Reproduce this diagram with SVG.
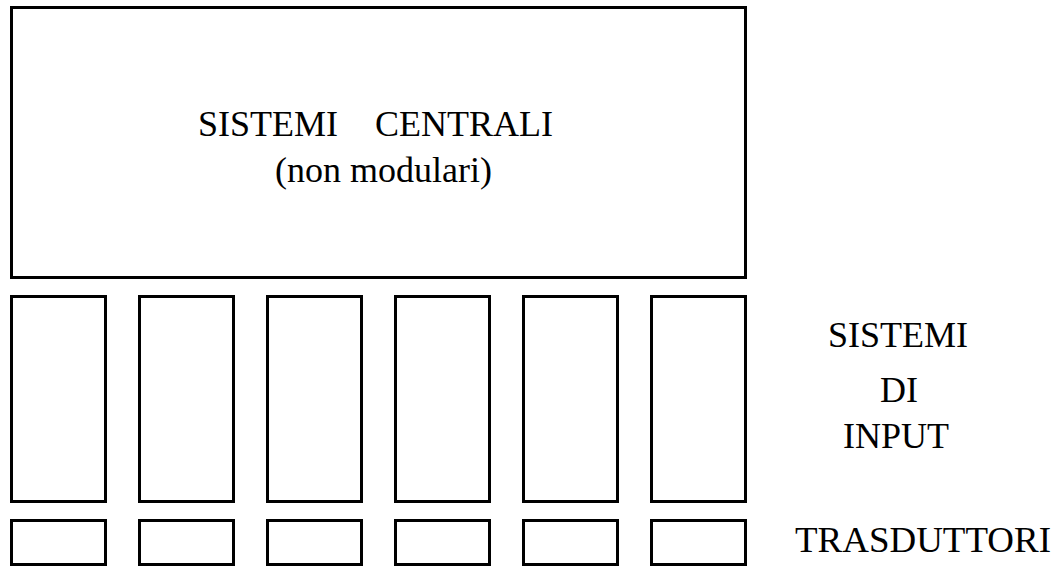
<svg xmlns="http://www.w3.org/2000/svg" width="1054" height="567" viewBox="0 0 1054 567">
<style>
.box{fill:#fff;stroke:#000;stroke-width:3}
.t{font-family:'Liberation Serif','Times New Roman','DejaVu Serif',serif;font-size:36px;fill:#000}
</style>
<rect width="1054" height="567" fill="#fff"/>
<g id="central">
<rect class="box" x="11.5" y="7.5" width="734" height="270"/>
<text class="t" font-family="Liberation Serif, serif" x="198" y="136">SISTEMI</text>
<text class="t" font-family="Liberation Serif, serif" x="375" y="136">CENTRALI</text>
<text class="t" font-family="Liberation Serif, serif" x="275" y="182">(non modulari)</text>
</g>
<g id="input1"><rect class="box" x="11.5" y="296.5" width="94" height="205"/></g>
<g id="input2"><rect class="box" x="139.5" y="296.5" width="94" height="205"/></g>
<g id="input3"><rect class="box" x="267.5" y="296.5" width="94" height="205"/></g>
<g id="input4"><rect class="box" x="395.5" y="296.5" width="94" height="205"/></g>
<g id="input5"><rect class="box" x="523.5" y="296.5" width="94" height="205"/></g>
<g id="input6"><rect class="box" x="651.5" y="296.5" width="94" height="205"/></g>
<g id="trans1"><rect class="box" x="11.5" y="520.5" width="94" height="44"/></g>
<g id="trans2"><rect class="box" x="139.5" y="520.5" width="94" height="44"/></g>
<g id="trans3"><rect class="box" x="267.5" y="520.5" width="94" height="44"/></g>
<g id="trans4"><rect class="box" x="395.5" y="520.5" width="94" height="44"/></g>
<g id="trans5"><rect class="box" x="523.5" y="520.5" width="94" height="44"/></g>
<g id="trans6"><rect class="box" x="651.5" y="520.5" width="94" height="44"/></g>
<g id="label-input">
<text class="t" font-family="Liberation Serif, serif" x="828" y="347">SISTEMI</text>
<text class="t" font-family="Liberation Serif, serif" x="880" y="402">DI</text>
<text class="t" font-family="Liberation Serif, serif" x="843" y="448">INPUT</text>
</g>
<g id="label-trans">
<text class="t" font-family="Liberation Serif, serif" x="795" y="552" textLength="256" lengthAdjust="spacingAndGlyphs">TRASDUTTORI</text>
</g>
<g id="connectors"></g>
</svg>
